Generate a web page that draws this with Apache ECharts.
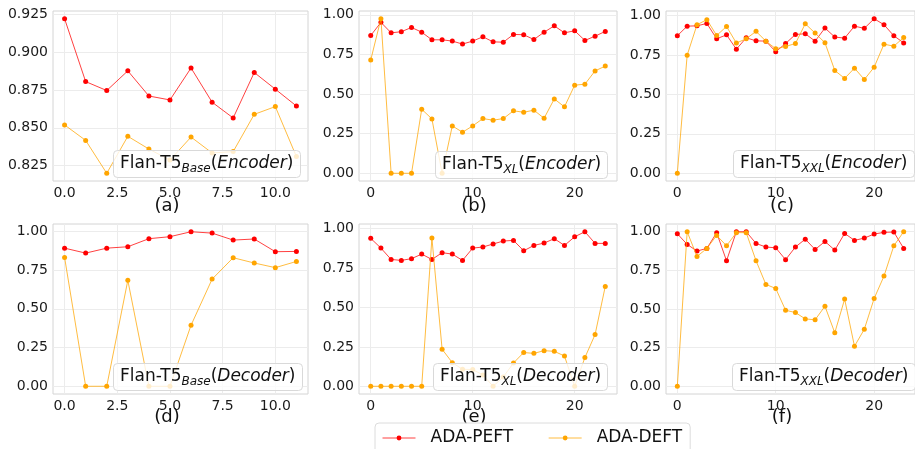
<!DOCTYPE html>
<html><head><meta charset="utf-8">
<script src="https://cdn.jsdelivr.net/npm/echarts@6/dist/echarts.min.js"></script>
<style>html,body{margin:0;padding:0;background:#fff}#c{width:915px;height:449px}</style>
</head><body><div id="c"></div>
<script>
// ---- data ----
const peftBaseEnc = [0.922,0.8805,0.8746,0.8876,0.871,0.8684,0.8895,0.8669,0.8565,0.8865,0.8755,0.8644];
const deftBaseEnc = [0.8519,0.8417,0.820,0.8444,0.836,0.8287,0.8439,0.8334,0.8343,0.8589,0.864,0.831];
const peftXLEnc = [0.869,0.952,0.886,0.893,0.92,0.89,0.842,0.842,0.834,0.815,0.834,0.861,0.829,0.827,0.876,0.874,0.844,0.89,0.93,0.886,0.899,0.838,0.865,0.895];
const deftXLEnc = [0.714,0.975,0,0,0,0.404,0.343,0,0.299,0.259,0.299,0.345,0.335,0.345,0.394,0.385,0.398,0.347,0.469,0.419,0.556,0.562,0.646,0.676];
const peftXXLEnc = [0.871,0.932,0.934,0.949,0.852,0.877,0.786,0.858,0.839,0.837,0.77,0.822,0.879,0.884,0.837,0.92,0.863,0.856,0.932,0.918,0.979,0.941,0.871,0.826];
const deftXXLEnc = [0,0.748,0.941,0.973,0.873,0.93,0.825,0.852,0.899,0.837,0.789,0.803,0.822,0.947,0.888,0.827,0.651,0.601,0.666,0.594,0.672,0.818,0.805,0.86];
const peftBaseDec = [0.892,0.86,0.892,0.901,0.953,0.966,0.998,0.989,0.944,0.951,0.869,0.871];
const deftBaseDec = [0.832,0,0,0.684,0,0,0.394,0.692,0.83,0.796,0.766,0.806];
const peftXLDec = [0.939,0.877,0.805,0.799,0.81,0.839,0.805,0.848,0.839,0.799,0.877,0.884,0.903,0.922,0.926,0.86,0.894,0.909,0.937,0.894,0.949,0.981,0.907,0.907];
const deftXLDec = [0,0,0,0,0,0,0.941,0.235,0.15,0.108,0.106,0.072,0,0.059,0.148,0.214,0.209,0.226,0.222,0.192,0,0.182,0.328,0.634];
const peftXXLDec = [0.987,0.918,0.875,0.892,0.994,0.812,1.0,1.0,0.924,0.901,0.896,0.819,0.901,0.952,0.885,0.937,0.881,0.989,0.944,0.959,0.985,0.996,0.998,0.892];
const deftXXLDec = [0,1.0,0.84,0.892,0.976,0.909,0.994,0.994,0.812,0.659,0.633,0.492,0.477,0.436,0.43,0.518,0.346,0.564,0.259,0.369,0.568,0.713,0.909,1.0];

const seriesNames = ['ADA-PEFT','ADA-DEFT'];
const sizes = ['Base','XL','XXL','Base','XL','XXL'];
const parts = ['Encoder','Encoder','Encoder','Decoder','Decoder','Decoder'];
const panelLetters = ['(a)','(b)','(c)','(d)','(e)','(f)'];
const xTicksBase = [0,2.5,5,7.5,10];
const xTicksBig = [0,10,20];
const yTicksEncBase = [0.825,0.85,0.875,0.9,0.925];
const yTicksUnit = [0,0.25,0.5,0.75,1.0];

const panels = [
  [peftBaseEnc, deftBaseEnc], [peftXLEnc, deftXLEnc], [peftXXLEnc, deftXXLEnc],
  [peftBaseDec, deftBaseDec], [peftXLDec, deftXLDec], [peftXXLDec, deftXXLDec]
];

// ---- layout ----
const FONT = 'DejaVu Sans';
const gridsPx = [
  {left:53, top:11, width:255, height:170},
  {left:359, top:11, width:258, height:170},
  {left:666, top:11, width:257, height:170},
  {left:53, top:224, width:255, height:170},
  {left:359, top:224, width:258, height:170},
  {left:666, top:224, width:257, height:170}
];
const boxPos = [[113,150],[435,151],[733,150],[113,363],[433,363],[732,363]];
const letterPos = [[167,206],[474,206],[782,206],[167,417],[474,417],[782,417]];
const colors = ['#ff0000','#ffa500'];

const grid=[], xAxis=[], yAxis=[], series=[], title=[], graphic=[];
panels.forEach((p,i)=>{
  grid.push(Object.assign({show:true, borderColor:'#d4d4d4', borderWidth:1, containLabel:false}, gridsPx[i]));
  const n = p[0].length;
  const xm = (n-1)*0.05;
  const all = p[0].concat(p[1]);
  const mn = Math.min(...all), mx = Math.max(...all), sp = mx-mn;
  const isBase = sizes[i]==='Base';
  const xt = isBase ? xTicksBase : xTicksBig;
  const yt = (i===0) ? yTicksEncBase : yTicksUnit;
  const yd = (i===0) ? 3 : 2;
  xAxis.push({type:'value', gridIndex:i, min:-xm, max:(n-1)+xm,
    axisLine:{show:false},
    axisTick:{show:false, customValues:xt},
    axisLabel:{customValues:xt, margin:5, fontSize:14, fontFamily:FONT, color:'#1a1a1a',
      formatter:v=> isBase ? v.toFixed(1) : String(Math.round(v))},
    splitLine:{show:true, lineStyle:{color:'#ececec', width:1}}
  });
  yAxis.push({type:'value', gridIndex:i, min:mn-0.05*sp, max:mx+0.05*sp,
    axisLine:{show:false},
    axisTick:{show:false, customValues:yt},
    axisLabel:{customValues:yt, margin:5, fontSize:14, fontFamily:FONT, color:'#1a1a1a',
      formatter:v=>v.toFixed(yd)},
    splitLine:{show:true, lineStyle:{color:'#ececec', width:1}}
  });
  p.forEach((arr,k)=>{
    series.push({type:'line', name:seriesNames[k], xAxisIndex:i, yAxisIndex:i,
      data:arr.map((v,j)=>[j,v]), symbol:'circle', symbolSize:5, showSymbol:true,
      itemStyle:{color:colors[k]}, lineStyle:{color:colors[k], width:1, opacity:0.75},
      z:2+k, animation:false, silent:true});
  });
  title.push({left:boxPos[i][0], top:boxPos[i][1],
    text:'{n|Flan-T5}{s|'+sizes[i]+'}{n|(}{i|'+parts[i]+'}{n|)}',
    padding:[3,7,3,7], backgroundColor:'rgba(255,255,255,0.8)', borderColor:'#d9d9d9', borderWidth:1, borderRadius:4,
    textStyle:{fontWeight:'normal', rich:{
      n:{fontSize:17, fontFamily:FONT, fontWeight:'normal', color:'#111', lineHeight:22},
      i:{fontSize:17, fontFamily:FONT, fontWeight:'normal', fontStyle:'italic', color:'#111', lineHeight:22},
      s:{fontSize:12, fontFamily:FONT, fontWeight:'normal', fontStyle:'italic', color:'#111', lineHeight:12, padding:[9,0,0,0]}
    }}
  });
  graphic.push({type:'text', x:letterPos[i][0], y:letterPos[i][1], z:0,
    style:{text:panelLetters[i], font:'18px "DejaVu Sans"', fill:'#111', textAlign:'center', textVerticalAlign:'middle'}});
});

const chart = echarts.init(document.getElementById('c'), null, {renderer:'canvas'});
chart.setOption({
  animation:false,
  grid, xAxis, yAxis, series, title, graphic,
  legend:{data:seriesNames, left:375, top:423, orient:'horizontal',
    padding:[5,8,10,7], itemWidth:33, itemHeight:6, itemGap:35,
    backgroundColor:'rgba(255,255,255,0.85)', borderColor:'#dcdcdc', borderWidth:1, borderRadius:4,
    lineStyle:{width:1},
    textStyle:{fontSize:17, fontFamily:FONT, color:'#111', padding:[0,0,0,10], lineHeight:20}, z:10}
});
</script></body></html>
